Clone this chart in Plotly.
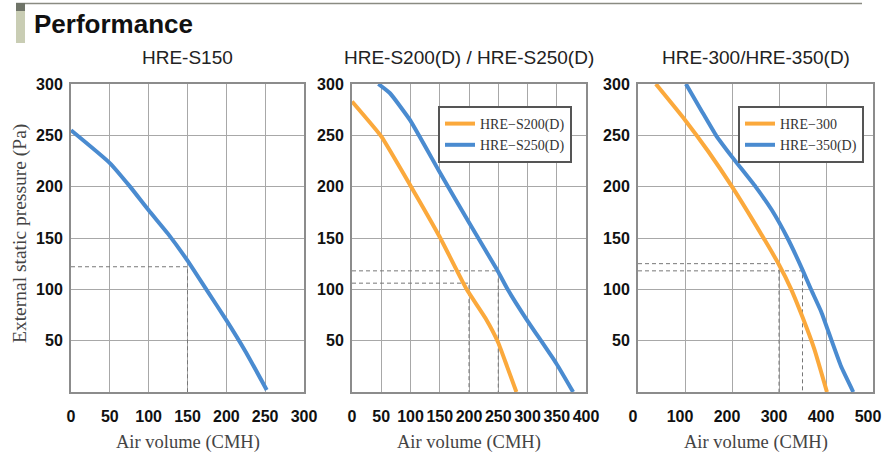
import plotly.graph_objects as go

# ---------------- data ----------------
s150_x = [0, 50, 75, 100, 125, 150, 175, 200, 225, 252]
s150_y = [255, 223, 201, 177, 154, 128, 99, 70, 39, 2]

s200_x = [0, 50, 100, 150, 196, 228, 250, 265, 281]
s200_y = [283, 249, 201, 151, 100, 72, 48, 25, 0]

s250_x = [45, 65, 99, 148, 199, 248, 267, 298, 349, 378]
s250_y = [300, 291, 265, 216, 166, 119, 99, 71, 28, 0]

h300_x = [38, 100, 150, 200, 250, 300, 325, 350, 375, 402]
h300_y = [300, 265, 234, 200, 163, 124, 101, 73, 42, 0]

h350_x = [102, 135, 166, 200, 250, 285, 318, 350, 368, 390, 412, 432, 458]
h350_y = [300, 274, 250, 229, 200, 177, 150, 119, 100, 78, 50, 25, 0]

# reference (dashed) lines: (x value, y value) per panel
ref1 = [(150, 122)]
ref2 = [(250, 118), (200, 106)]
ref3 = [(300, 125), (350, 118)]

panel_titles = ["HRE-S150", "HRE-S200(D) / HRE-S250(D)", "HRE-300/HRE-350(D)"]
x_ranges = [300, 400, 500]
x_dticks = [50, 50, 100]
y_ticks = [50, 100, 150, 200, 250, 300]

BLUE = "#4A8BD0"
ORANGE = "#FBA93C"
W, H = 884, 457

# ---------------- figure ----------------
fig = go.Figure()

px_domains = [(71, 304), (352, 586), (638, 873)]
label_shift = [0, 0, -5]
y_dom = [1 - 392 / H, 1 - 84 / H]

def ax(i):
    return ("" if i == 0 else str(i + 1))

refs = [ref1, ref2, ref3]
for i in range(3):
    xa, ya = "x" + ax(i), "y" + ax(i)
    for (xv, yv) in refs[i]:
        fig.add_trace(go.Scatter(x=[0, xv, xv], y=[yv, yv, 0], mode="lines",
                                 line=dict(color="#777777", width=1, dash="4px,3px"),
                                 showlegend=False, hoverinfo="skip", xaxis=xa, yaxis=ya))

LW = 4
fig.add_trace(go.Scatter(x=s150_x, y=s150_y, mode="lines", line=dict(color=BLUE, width=LW, shape="spline", smoothing=0.5),
                         showlegend=False, xaxis="x", yaxis="y"))
fig.add_trace(go.Scatter(x=s200_x, y=s200_y, mode="lines", name="HRE−S200(D)",
                         line=dict(color=ORANGE, width=LW, shape="spline", smoothing=0.4),
                         legend="legend", xaxis="x2", yaxis="y2"))
fig.add_trace(go.Scatter(x=s250_x, y=s250_y, mode="lines", name="HRE−S250(D)",
                         line=dict(color=BLUE, width=LW, shape="spline", smoothing=0.4),
                         legend="legend", xaxis="x2", yaxis="y2"))
fig.add_trace(go.Scatter(x=h300_x, y=h300_y, mode="lines", name="HRE−300",
                         line=dict(color=ORANGE, width=LW, shape="spline", smoothing=0.5),
                         legend="legend2", xaxis="x3", yaxis="y3"))
fig.add_trace(go.Scatter(x=h350_x, y=h350_y, mode="lines", name="HRE−350(D)",
                         line=dict(color=BLUE, width=LW, shape="spline", smoothing=0.4),
                         legend="legend2", xaxis="x3", yaxis="y3"))

tick_font = dict(family="Liberation Sans, Arial, sans-serif", size=16, color="#111111", weight="bold")
layout = dict(
    width=W, height=H, autosize=False,
    margin=dict(l=0, r=0, t=0, b=0, pad=0, autoexpand=False),
    paper_bgcolor="white", plot_bgcolor="white",
)
for i in range(3):
    x0, x1 = px_domains[i]
    layout["xaxis" + ax(i)] = dict(
        domain=[x0 / W, x1 / W], range=[0, x_ranges[i]], anchor="y" + ax(i),
        tick0=0, dtick=x_dticks[i], showgrid=True, gridcolor="#A8A8A8", gridwidth=1,
        showline=True, linecolor="#8C8C8C", linewidth=2, mirror=True,
        ticks="outside", ticklen=9, tickcolor="rgba(0,0,0,0)", tickangle=0,
        ticklabeloverflow="allow", ticklabelshift=label_shift[i],
        tickfont=tick_font, zeroline=False, fixedrange=True, automargin=False,
    )
    layout["yaxis" + ax(i)] = dict(
        domain=y_dom, range=[0, 300], anchor="x" + ax(i),
        tickvals=y_ticks, ticktext=[str(v) for v in y_ticks],
        showgrid=True, gridcolor="#A8A8A8", gridwidth=1,
        showline=True, linecolor="#8C8C8C", linewidth=2, mirror=True,
        ticks="outside", ticklen=3, tickcolor="rgba(0,0,0,0)",
        ticklabeloverflow="allow",
        tickfont=tick_font, zeroline=False, fixedrange=True, automargin=False,
    )

leg_font = dict(family="Liberation Serif, Times New Roman, serif", size=14, color="#333333")
layout["legend"] = dict(x=572 / W, y=1 - 106 / H, xanchor="right", yanchor="top",
                        bgcolor="white", bordercolor="#555555", borderwidth=2,
                        font=leg_font, tracegroupgap=2, itemwidth=30)
layout["legend2"] = dict(x=864 / W, y=1 - 106 / H, xanchor="right", yanchor="top",
                         bgcolor="white", bordercolor="#555555", borderwidth=2,
                         font=leg_font, tracegroupgap=2, itemwidth=30)
fig.update_layout(**layout)

# panel titles and axis titles
for i in range(3):
    x0, x1 = px_domains[i]
    fig.add_annotation(text=panel_titles[i], xref="paper", yref="paper",
                       x=(x0 + x1) / 2 / W, y=1 - 57 / H, xanchor="center", yanchor="middle",
                       showarrow=False, font=dict(family="Liberation Sans, Arial, sans-serif", size=19, color="#222222"))
    fig.add_annotation(text="Air volume (CMH)", xref="paper", yref="paper",
                       x=(x0 + x1) / 2 / W, y=1 - 442 / H, xanchor="center", yanchor="middle",
                       showarrow=False, font=dict(family="Liberation Serif, Times New Roman, serif", size=18.5, color="#444444"))

fig.add_annotation(text="External static pressure (Pa)", xref="paper", yref="paper",
                   x=20 / W, y=1 - 234 / H, xanchor="center", yanchor="middle", textangle=-90,
                   showarrow=False, font=dict(family="Liberation Serif, Times New Roman, serif", size=19.5, color="#444444"))

# header
fig.add_annotation(text="<b>Performance</b>", xref="paper", yref="paper",
                   x=32 / W, y=1 - 24 / H, xanchor="left", yanchor="middle",
                   showarrow=False, font=dict(family="Liberation Sans, Arial, sans-serif", size=26, color="#111111"))
fig.add_shape(type="line", xref="paper", yref="paper", x0=16 / W, x1=862 / W, y0=1 - 3.5 / H, y1=1 - 3.5 / H,
              line=dict(color="#8A8B82", width=1.5))
fig.add_shape(type="rect", xref="paper", yref="paper", x0=16 / W, x1=25 / W, y0=1 - 11 / H, y1=1 - 3 / H,
              line=dict(width=0), fillcolor="#6F7468")
fig.add_shape(type="rect", xref="paper", yref="paper", x0=16 / W, x1=25 / W, y0=1 - 43 / H, y1=1 - 11 / H,
              line=dict(width=0), fillcolor="#C9CDB4")

fig.write_html(
    "out.html",
    config={"displayModeBar": False},
    post_script="document.body.style.margin='0';document.body.style.padding='0';document.body.style.overflow='hidden';",
)
